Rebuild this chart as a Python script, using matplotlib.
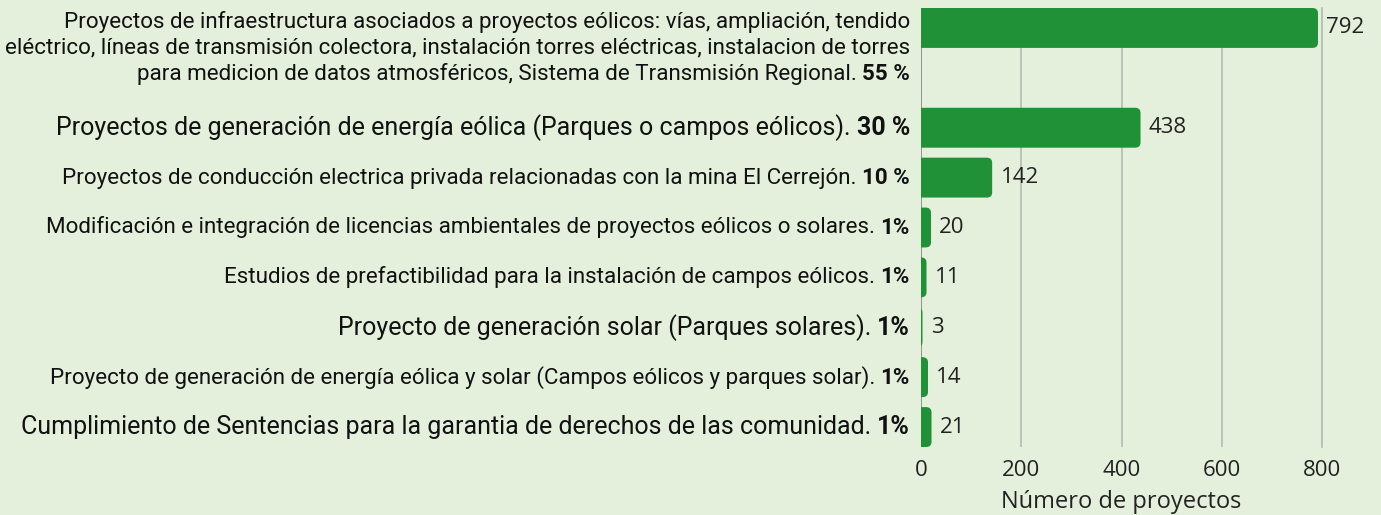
import matplotlib
matplotlib.use("Agg")
import matplotlib.pyplot as plt
from matplotlib.patches import FancyBboxPatch
from matplotlib.offsetbox import TextArea, HPacker, VPacker, AnnotationBbox

# datos
categorias = [
    ["Proyectos de infraestructura asociados a proyectos eólicos: vías, ampliación, tendido",
     "eléctrico, líneas de transmisión colectora, instalación torres eléctricas, instalacion de torres",
     "para medicion de datos atmosféricos, Sistema de Transmisión Regional."],
    ["Proyectos de generación de energía eólica (Parques o campos eólicos)."],
    ["Proyectos de conducción electrica privada relacionadas con la mina El Cerrejón."],
    ["Modificación e integración de licencias ambientales de proyectos eólicos o solares."],
    ["Estudios de prefactibilidad para la instalación de campos eólicos."],
    ["Proyecto de generación solar (Parques solares)."],
    ["Proyecto de generación de energía eólica y solar (Campos eólicos y parques solar)."],
    ["Cumplimiento de Sentencias para la garantia de derechos de las comunidad."],
]
porcentajes = ["55 %", "30 %", "10 %", "1%", "1%", "1%", "1%", "1%"]
proyectos = [792, 438, 142, 20, 11, 3, 14, 21]
ticks_x = [0, 200, 400, 600, 800]

# estilo
fondo = "#e4f0dc"
verde = "#219137"
fuente = ["Roboto", "DejaVu Sans"]
fuente_num = ["Open Sans", "DejaVu Sans"]
grande = [False, True, False, False, False, True, False, True]
tam_chico, tam_grande = 16.1, 18

pos = [-1, 1, 2, 3, 4, 5, 6, 7]

fig = plt.figure(figsize=(13.81, 5.15), dpi=100, facecolor=fondo)
ax = fig.add_axes([921 / 1381, 1 - 447 / 515, 401 / 1381, 439 / 515])
ax.set_facecolor(fondo)

bars = ax.barh(pos, proyectos, height=0.8, color=verde)
# barras con esquinas redondeadas a la derecha
for b in bars:
    x, y = b.get_x(), b.get_y()
    w, h = b.get_width(), b.get_height()
    b.remove()
    p = FancyBboxPatch((x - 30, y), w + 30, h,
                       boxstyle="round,pad=0,rounding_size=11",
                       mutation_aspect=0.0095, fc=verde, ec="none", zorder=2)
    ax.add_patch(p)

ax.set_xlim(0, 800)
ax.set_ylim(7.4, -1.4)
ax.set_xticks(ticks_x)
ax.set_xticklabels([str(t) for t in ticks_x], family=fuente_num, fontsize=16,
                   color="#222222")
ax.tick_params(axis="x", length=0, pad=9)
ax.set_yticks([])
for s in ax.spines.values():
    s.set_visible(False)
ax.grid(axis="x", color="#b7c0b2", linewidth=1.3, zorder=0)
ax.set_axisbelow(True)
ax.axvline(0, color="#8d938a", linewidth=1.3, zorder=1)
ax.axvline(800, color="#b7c0b2", linewidth=1.3, zorder=0, clip_on=False)
ax.set_xlabel("Número de proyectos", family=fuente_num, fontsize=17,
              color="#222222", labelpad=7)

# valores
for v, y in zip(proyectos, pos):
    ax.annotate(str(v), (v, y), xytext=(6, 0), textcoords="offset points",
                ha="left", va="center", family=fuente_num, fontsize=16,
                color="#222222", annotation_clip=False)

# etiquetas con el porcentaje en negrita
for lineas, pct, y, g in zip(categorias, porcentajes, pos, grande):
    fs = tam_grande if g else tam_chico
    prop = dict(family=fuente, fontsize=fs, color="#111111")
    ultima = HPacker(children=[TextArea(lineas[-1], textprops=prop),
                               TextArea(pct, textprops=dict(prop, weight="bold"))],
                     align="baseline", pad=0, sep=4)
    filas = [TextArea(l, textprops=prop) for l in lineas[:-1]] + [ultima]
    caja = VPacker(children=filas, align="right", pad=0, sep=3)
    if len(lineas) > 1:
        ab = AnnotationBbox(caja, (0, -1.4), xycoords=("axes fraction", "data"),
                            xybox=(-8, -2.5), boxcoords="offset points",
                            box_alignment=(1, 1), frameon=False)
    else:
        ab = AnnotationBbox(caja, (0, y), xycoords=("axes fraction", "data"),
                            xybox=(-8, 0), boxcoords="offset points",
                            box_alignment=(1, 0.5), frameon=False)
    ax.add_artist(ab)

fig.savefig("out.png", dpi=100, facecolor=fondo)
